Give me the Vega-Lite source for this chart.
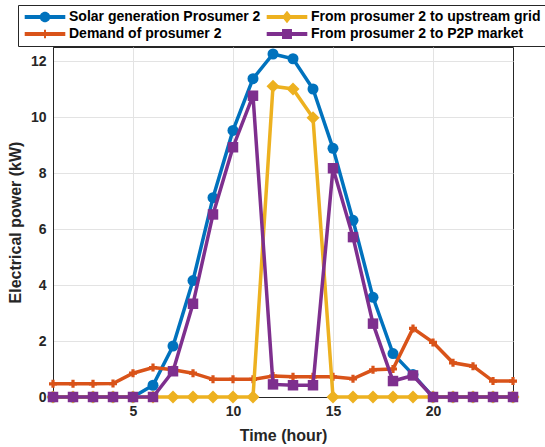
{
  "$schema": "https://vega.github.io/schema/vega-lite/v6.json",
  "width": 460,
  "height": 350,
  "autosize": "none",
  "padding": {"left": 53, "top": 47, "right": 32, "bottom": 50},
  "background": "white",
  "config": {
    "font": "Liberation Sans",
    "view": {"stroke": "#262626", "strokeWidth": 1},
    "axis": {
      "labelFont": "Liberation Sans",
      "labelFontSize": 14,
      "labelFontWeight": "bold",
      "labelColor": "#262626",
      "titleFont": "Liberation Sans",
      "titleFontSize": 16,
      "titleFontWeight": "bold",
      "titleColor": "#262626",
      "domainColor": "#262626",
      "tickColor": "#262626",
      "gridColor": "#e3e3e3",
      "grid": true,
      "tickSize": 0,
      "labelPadding": 7
    }
  },
  "data": {
    "values": [
      {"hour": 1, "Solar generation Prosumer 2": 0, "Demand of prosumer 2": 0.47, "From prosumer 2 to upstream grid": 0, "From prosumer 2 to P2P market": 0},
      {"hour": 2, "Solar generation Prosumer 2": 0, "Demand of prosumer 2": 0.47, "From prosumer 2 to upstream grid": 0, "From prosumer 2 to P2P market": 0},
      {"hour": 3, "Solar generation Prosumer 2": 0, "Demand of prosumer 2": 0.47, "From prosumer 2 to upstream grid": 0, "From prosumer 2 to P2P market": 0},
      {"hour": 4, "Solar generation Prosumer 2": 0, "Demand of prosumer 2": 0.48, "From prosumer 2 to upstream grid": 0, "From prosumer 2 to P2P market": 0},
      {"hour": 5, "Solar generation Prosumer 2": 0, "Demand of prosumer 2": 0.85, "From prosumer 2 to upstream grid": 0, "From prosumer 2 to P2P market": 0},
      {"hour": 6, "Solar generation Prosumer 2": 0.42, "Demand of prosumer 2": 1.05, "From prosumer 2 to upstream grid": 0, "From prosumer 2 to P2P market": 0},
      {"hour": 7, "Solar generation Prosumer 2": 1.82, "Demand of prosumer 2": 0.97, "From prosumer 2 to upstream grid": 0, "From prosumer 2 to P2P market": 0.92},
      {"hour": 8, "Solar generation Prosumer 2": 4.16, "Demand of prosumer 2": 0.85, "From prosumer 2 to upstream grid": 0, "From prosumer 2 to P2P market": 3.33},
      {"hour": 9, "Solar generation Prosumer 2": 7.12, "Demand of prosumer 2": 0.63, "From prosumer 2 to upstream grid": 0, "From prosumer 2 to P2P market": 6.52},
      {"hour": 10, "Solar generation Prosumer 2": 9.52, "Demand of prosumer 2": 0.63, "From prosumer 2 to upstream grid": 0, "From prosumer 2 to P2P market": 8.92},
      {"hour": 11, "Solar generation Prosumer 2": 11.37, "Demand of prosumer 2": 0.63, "From prosumer 2 to upstream grid": 0, "From prosumer 2 to P2P market": 10.76},
      {"hour": 12, "Solar generation Prosumer 2": 12.25, "Demand of prosumer 2": 0.75, "From prosumer 2 to upstream grid": 11.1, "From prosumer 2 to P2P market": 0.45},
      {"hour": 13, "Solar generation Prosumer 2": 12.08, "Demand of prosumer 2": 0.72, "From prosumer 2 to upstream grid": 11.0, "From prosumer 2 to P2P market": 0.42},
      {"hour": 14, "Solar generation Prosumer 2": 11.0, "Demand of prosumer 2": 0.72, "From prosumer 2 to upstream grid": 9.97, "From prosumer 2 to P2P market": 0.42},
      {"hour": 15, "Solar generation Prosumer 2": 8.88, "Demand of prosumer 2": 0.72, "From prosumer 2 to upstream grid": 0, "From prosumer 2 to P2P market": 8.17},
      {"hour": 16, "Solar generation Prosumer 2": 6.31, "Demand of prosumer 2": 0.65, "From prosumer 2 to upstream grid": 0, "From prosumer 2 to P2P market": 5.71},
      {"hour": 17, "Solar generation Prosumer 2": 3.56, "Demand of prosumer 2": 0.97, "From prosumer 2 to upstream grid": 0, "From prosumer 2 to P2P market": 2.62},
      {"hour": 18, "Solar generation Prosumer 2": 1.55, "Demand of prosumer 2": 1.0, "From prosumer 2 to upstream grid": 0, "From prosumer 2 to P2P market": 0.57},
      {"hour": 19, "Solar generation Prosumer 2": 0.8, "Demand of prosumer 2": 2.45, "From prosumer 2 to upstream grid": 0, "From prosumer 2 to P2P market": 0.77},
      {"hour": 20, "Solar generation Prosumer 2": 0, "Demand of prosumer 2": 1.95, "From prosumer 2 to upstream grid": 0, "From prosumer 2 to P2P market": 0},
      {"hour": 21, "Solar generation Prosumer 2": 0, "Demand of prosumer 2": 1.22, "From prosumer 2 to upstream grid": 0, "From prosumer 2 to P2P market": 0},
      {"hour": 22, "Solar generation Prosumer 2": 0, "Demand of prosumer 2": 1.1, "From prosumer 2 to upstream grid": 0, "From prosumer 2 to P2P market": 0},
      {"hour": 23, "Solar generation Prosumer 2": 0, "Demand of prosumer 2": 0.57, "From prosumer 2 to upstream grid": 0, "From prosumer 2 to P2P market": 0},
      {"hour": 24, "Solar generation Prosumer 2": 0, "Demand of prosumer 2": 0.57, "From prosumer 2 to upstream grid": 0, "From prosumer 2 to P2P market": 0}
    ]
  },
  "transform": [
    {"fold": ["Solar generation Prosumer 2", "Demand of prosumer 2", "From prosumer 2 to upstream grid", "From prosumer 2 to P2P market"], "as": ["series", "value"]}
  ],
  "encoding": {
    "x": {
      "field": "hour", "type": "quantitative",
      "scale": {"domain": [1, 24], "nice": false, "zero": false},
      "axis": {"values": [5, 10, 15, 20], "title": "Time (hour)", "titlePadding": 9}
    },
    "y": {
      "field": "value", "type": "quantitative",
      "scale": {"domain": [0, 12.5], "nice": false},
      "axis": {"values": [0, 2, 4, 6, 8, 10, 12], "title": "Electrical power (kW)", "titlePadding": 7}
    },
    "color": {
      "field": "series", "type": "nominal",
      "scale": {
        "domain": ["Solar generation Prosumer 2", "From prosumer 2 to upstream grid", "Demand of prosumer 2", "From prosumer 2 to P2P market"],
        "range": ["#0072BD", "#EDB120", "#D95319", "#7E2F8E"]
      },
      "legend": {
        "orient": "none",
        "legendX": -35,
        "legendY": -42,
        "columns": 2,
        "direction": "horizontal",
        "title": null,
        "strokeColor": "#262626",
        "fillColor": "white",
        "padding": 5,
        "labelFont": "Liberation Sans",
        "labelFontSize": 14,
        "labelFontWeight": "bold",
        "labelColor": "#000000",
        "labelLimit": 400,
        "symbolSize": 196,
        "symbolOffset": 15,
        "labelOffset": 17,
        "columnPadding": 4,
        "rowPadding": 3,
        "encode": {
          "symbols": {
            "update": {
              "shape": {"signal": "datum.value === 'Solar generation Prosumer 2' ? 'M-2.9,-0.28H2.9V0.28H-2.9Z M-0.75,0A0.75,0.75,0,1,1,0.75,0A0.75,0.75,0,1,1,-0.75,0Z' : datum.value === 'Demand of prosumer 2' ? 'M-2.9,-0.28H2.9V0.28H-2.9Z M-0.14,-0.6H0.14V0.6H-0.14Z' : datum.value === 'From prosumer 2 to upstream grid' ? 'M-2.9,-0.28H2.9V0.28H-2.9Z M0,-0.9L0.72,0L0,0.9L-0.72,0Z' : 'M-2.9,-0.28H2.9V0.28H-2.9Z M-0.71,-0.71H0.71V0.71H-0.71Z'"},
              "fill": {"signal": "scale('color', datum.value)"},
              "stroke": {"value": "transparent"},
              "strokeWidth": {"value": 0},
              "opacity": {"value": 1},
              "fillOpacity": {"value": 1},
              "size": {"value": 196}
            }
          }
        }
      }
    }
  },
  "layer": [
    {
      "transform": [{"filter": "datum.series === 'Solar generation Prosumer 2'"}],
      "mark": {"type": "line", "strokeWidth": 3.5, "point": {"shape": "circle", "size": 121, "filled": true, "opacity": 1}}
    },
    {
      "transform": [{"filter": "datum.series === 'Demand of prosumer 2'"}],
      "mark": {"type": "line", "strokeWidth": 3.5, "point": {"shape": "cross", "size": 64, "filled": true, "opacity": 1}}
    },
    {
      "transform": [{"filter": "datum.series === 'From prosumer 2 to upstream grid'"}],
      "mark": {"type": "line", "strokeWidth": 3.5, "point": {"shape": "diamond", "size": 169, "filled": true, "opacity": 1}}
    },
    {
      "transform": [{"filter": "datum.series === 'From prosumer 2 to P2P market'"}],
      "mark": {"type": "line", "strokeWidth": 3.5, "point": {"shape": "square", "size": 110, "filled": true, "opacity": 1}}
    }
  ]
}
